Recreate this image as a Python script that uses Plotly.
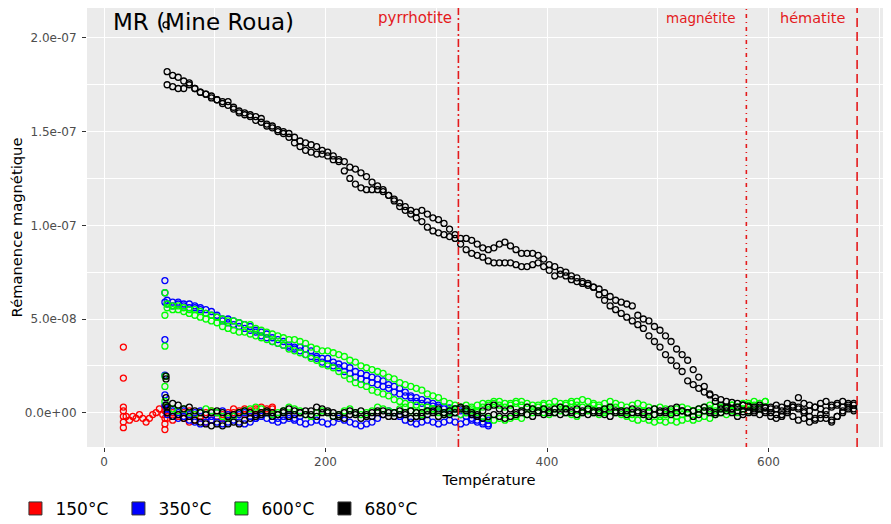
import plotly.graph_objects as go

SCALE = 1e-8  # values below are in units of 1e-8
STEP = 5      # temperature step (°C) between successive readings of a run

# ---------------- 150°C (red) ----------------
RED_COL_T = [17.5] * 7
RED_COL_V = [3.5, 1.85, 0.3, 0.1, -0.2, -0.5, -0.8]
RED_PRE_T = [20, 23, 26, 29, 32, 35, 38, 41, 44, 47, 50, 53]
RED_PRE_V = [-0.2, -0.4, -0.2, -0.3, -0.1, -0.3, -0.5, -0.3, -0.1, 0.0, 0.2, -0.1]
RED_COL2_T = [55] * 5
RED_COL2_V = [0.3, 0.1, -0.3, -0.6, -0.9]
RED_HEAT_T0 = 57
RED_HEAT = [-0.3, -0.4, -0.2, -0.3, -0.5, -0.4, -0.3, -0.5, -0.4, -0.2, -0.3, -0.1, 0.0, 0.1, 0.2,
            0.1, 0.2, 0.3, 0.2, 0.3]
RED_COOL_T0 = 57
RED_COOL = [0.1, 0.0, -0.1, 0.0, 0.1, -0.1, -0.2, 0.0, 0.1, 0.0, -0.1, 0.0, 0.2, 0.0, -0.1,
            0.0, 0.1, 0.0, 0.1, 0.2]

# ---------------- 350°C (blue) ----------------
BLUE_COL_T = [55] * 7
BLUE_COL_V = [7.05, 6.4, 5.9, 3.9, 2.0, 0.95, 0.4]
BLUE_HEAT1_T0 = 57
BLUE_HEAT1 = [6.0, 5.9, 5.9, 5.8, 5.8, 5.7, 5.6, 5.5, 5.4, 5.2, 5.0, 5.0, 4.9, 4.8, 4.7,
              4.6, 4.4, 4.3, 4.2, 4.0, 3.9, 3.8, 3.6, 3.5, 3.5, 3.4, 3.3, 3.0, 2.9, 2.9,
              2.7, 2.6, 2.5, 2.4, 2.2, 2.1, 2.0, 1.9, 1.8, 1.7, 1.5, 1.4, 1.3, 1.1, 0.9,
              0.8, 0.7, 0.6, 0.5, 0.4, 0.3, 0.25, 0.2, 0.1, 0.0, -0.1, -0.2, -0.3, -0.4]
BLUE_HEAT2_T0 = 57
BLUE_HEAT2 = [5.8, 5.7, 5.8, 5.7, 5.6, 5.6, 5.5, 5.3, 5.2, 5.1, 4.9, 4.8, 4.7, 4.6, 4.5,
              4.4, 4.3, 4.1, 4.0, 3.8, 3.7, 3.6, 3.5, 3.4, 3.3, 3.1, 3.0, 2.9, 2.7, 2.6,
              2.5, 2.4, 2.2, 2.1, 1.9, 1.8, 1.7, 1.6, 1.5, 1.4, 1.3, 1.1, 1.0, 0.9, 0.8,
              0.6, 0.5, 0.4, 0.35, 0.3, 0.2, 0.1, 0.0, -0.1, -0.2, -0.3, -0.4, -0.5, -0.6]
BLUE_COOL1_T0 = 57
BLUE_COOL1 = [-0.1, -0.2, -0.3, -0.2, -0.4, -0.5, -0.6, -0.5, -0.4, -0.5, -0.6, -0.5, -0.4, -0.5, -0.6,
              -0.5, -0.3, -0.2, -0.3, -0.4, -0.5, -0.4, -0.3, -0.4, -0.5, -0.6, -0.5, -0.4, -0.5, -0.6,
              -0.5, -0.3, -0.4, -0.5, -0.6, -0.7, -0.6, -0.5, -0.3, -0.1, 0.1, 0.0, -0.2, -0.4, -0.5,
              -0.6, -0.5, -0.4, -0.5, -0.6, -0.5, -0.4, -0.5, -0.6, -0.5, -0.4, -0.5, -0.6, -0.7]
BLUE_COOL2_T0 = 57
BLUE_COOL2 = [0.2, 0.1, 0.0, 0.1, -0.1, 0.0, 0.1, -0.1, -0.2, 0.0, 0.1, -0.1, -0.2, -0.1, 0.0,
              -0.2, -0.3, -0.1, 0.0, -0.2, -0.3, -0.2, -0.1, -0.3, -0.2]

# ---------------- 600°C (green) ----------------
GREEN_COL_T = [55] * 6
GREEN_COL_V = [6.4, 5.2, 3.55, 1.95, 1.4, 0.6]
GREEN_HEAT1_T0 = 57
GREEN_HEAT1 = [5.8, 5.7, 5.7, 5.6, 5.5, 5.5, 5.4, 5.3, 5.2, 5.1, 5.0, 4.9, 4.9, 4.8, 4.7,
               4.7, 4.5, 4.4, 4.3, 4.2, 4.1, 4.0, 3.9, 3.9, 3.8, 3.7, 3.5, 3.4, 3.3, 3.3,
               3.2, 3.1, 3.0, 2.8, 2.7, 2.5, 2.4, 2.3, 2.2, 2.1, 1.9, 1.8, 1.6, 1.5, 1.4,
               1.3, 1.2, 1.0, 0.9, 0.8, 0.6, 0.5, 0.4, 0.3, 0.2, 0.3, 0.4, 0.5, 0.4, 0.5,
               0.6, 0.5, 0.4, 0.5, 0.6, 0.5, 0.4, 0.3, 0.4, 0.5, 0.6, 0.5, 0.4, 0.5, 0.6,
               0.7, 0.6, 0.5, 0.4, 0.5, 0.6, 0.5, 0.4, 0.3, 0.4, 0.5, 0.4, 0.3, 0.2, 0.3,
               0.2, 0.1, 0.2, 0.3, 0.2, 0.1, 0.2, 0.3, 0.4, 0.3, 0.2, 0.3, 0.4, 0.3, 0.4,
               0.5, 0.4, 0.5, 0.6]
GREEN_HEAT2_T0 = 57
GREEN_HEAT2 = [5.6, 5.5, 5.5, 5.4, 5.3, 5.2, 5.1, 5.0, 4.9, 4.8, 4.6, 4.5, 4.4, 4.3, 4.3,
               4.2, 4.1, 4.0, 3.9, 3.8, 3.7, 3.6, 3.4, 3.3, 3.2, 3.1, 2.9, 2.8, 2.6, 2.5,
               2.4, 2.2, 2.0, 1.8, 1.6, 1.5, 1.4, 1.2, 1.1, 1.0, 0.9, 0.7, 0.6, 0.5, 0.4,
               0.4, 0.3, 0.3, 0.2, 0.1, 0.0, 0.1, 0.0, -0.1, 0.0, 0.1, 0.0, -0.2, -0.3, -0.4,
               -0.3, -0.4, -0.3, -0.2, -0.3, -0.1, 0.0, 0.1, 0.0, -0.1, 0.0, 0.1, 0.0, -0.1, -0.2,
               0.0, 0.1, 0.0, -0.1, 0.0, 0.1, 0.0, -0.1, -0.2, -0.3, -0.4, -0.3, -0.4, -0.5, -0.4,
               -0.5, -0.4, -0.5, -0.4, -0.3, -0.4, -0.3, -0.2, -0.3, -0.1, 0.0, -0.1, 0.1, 0.0, 0.2,
               0.1, 0.3, 0.2, 0.3]
GREEN_COOL_T0 = 57
GREEN_COOL = [0.3, 0.2, 0.1, 0.2, 0.0, -0.1, 0.0, 0.2, 0.1, 0.0, -0.2, -0.3, -0.2, 0.0, 0.1,
              0.2, 0.3, 0.2, 0.0, -0.1, 0.0, 0.1, 0.3, 0.2, 0.1, -0.1, -0.2, 0.0, 0.1, 0.0,
              -0.2, -0.1, 0.1, 0.2, 0.0, -0.1, 0.0, 0.1, 0.3, 0.2, 0.1, 0.0, 0.2, 0.3, 0.1,
              0.0, -0.1, 0.1, 0.2, 0.0, -0.1, 0.0, 0.2, 0.3, 0.4, 0.2, 0.1, 0.3, 0.5, 0.6,
              0.4, 0.3, 0.5, 0.6, 0.4, 0.3, 0.2, 0.4, 0.5, 0.3, 0.2, 0.3, 0.5, 0.6, 0.4,
              0.3, 0.2, 0.4, 0.3, 0.1, 0.2, 0.3, 0.1, 0.0, -0.1, 0.0, 0.1, 0.0, -0.1, -0.2,
              -0.1, 0.0, -0.2, -0.1, 0.0, 0.1, 0.0, 0.1, 0.2, 0.1, 0.3, 0.2, 0.4, 0.3, 0.5,
              0.4, 0.6, 0.5, 0.6]

# ---------------- 680°C (black) ----------------
BLACK_COL_T = [56] * 5
BLACK_COL_V = [20.7, 1.95, 1.8, 0.8, 0.4]
BLACK_HEAT1_T0 = 57
BLACK_HEAT1 = [18.2, 18.0, 17.9, 17.7, 17.6, 17.3, 17.1, 17.0, 16.8, 16.7, 16.6, 16.6, 16.3, 16.1, 16.0,
               15.9, 15.8, 15.7, 15.4, 15.3, 15.1, 15.0, 14.9, 14.7, 14.5, 14.4, 14.3, 14.2, 14.0, 13.9,
               13.7, 13.5, 13.4, 13.1, 13.0, 12.8, 12.6, 12.3, 12.1, 11.9, 11.6, 11.4, 11.2, 11.0, 10.8,
               10.7, 10.8, 10.6, 10.4, 10.3, 10.1, 9.8, 9.5, 9.3, 9.3, 9.2, 9.0, 8.8, 8.7, 8.8,
               9.0, 9.1, 8.9, 8.7, 8.5, 8.5, 8.5, 8.4, 8.2, 7.9, 7.8, 7.6, 7.5, 7.3, 7.2,
               7.0, 6.9, 6.7, 6.3, 6.0, 5.7, 5.5, 5.3, 5.1, 4.9, 4.7, 4.5, 4.1, 3.8, 3.5,
               3.1, 2.8, 2.5, 2.2, 1.7, 1.5, 1.3, 1.1, 0.95, 0.8, 0.7, 0.6, 0.55, 0.5, 0.4,
               0.35, 0.3, 0.3, 0.25, 0.3, 0.2, 0.1, 0.2, 0.3, 0.2, 0.0, 0.1, 0.3, 0.2, 0.1,
               0.3, 0.4, 0.3, 0.5, 0.4]
BLACK_HEAT2_T0 = 57
BLACK_HEAT2 = [17.5, 17.4, 17.3, 17.3, 17.5, 17.3, 17.1, 17.0, 16.9, 16.7, 16.5, 16.4, 16.2, 16.0, 15.9,
               15.8, 15.6, 15.5, 15.3, 15.2, 15.0, 14.9, 14.7, 14.4, 14.2, 14.0, 13.9, 13.8, 13.8, 13.7,
               13.5, 13.4, 12.9, 12.5, 12.2, 12.0, 11.9, 11.9, 11.9, 11.8, 11.6, 11.3, 11.0, 10.8, 10.6,
               10.4, 10.2, 9.9, 9.7, 9.6, 9.5, 9.4, 9.3, 9.0, 8.7, 8.5, 8.4, 8.3, 8.1, 8.0,
               8.0, 8.0, 8.0, 7.9, 7.8, 7.8, 7.9, 8.0, 7.8, 7.6, 7.3, 7.4, 7.3, 7.1, 7.0,
               6.9, 6.8, 6.7, 6.6, 6.4, 6.2, 6.0, 5.9, 5.8, 5.7, 5.2, 5.0, 4.9, 4.6, 4.4,
               4.1, 3.8, 3.4, 3.1, 2.8, 2.3, 1.9, 1.4, 1.0, 0.6, 0.4, 0.25, 0.2, 0.1, 0.05,
               0.1, 0.0, 0.2, 0.1, 0.0, -0.1, -0.2, 0.1, 0.3, 0.8, 0.1, -0.2, -0.4, -0.3, -0.1,
               -0.4, -0.2, 0.0, 0.2, 0.1]
BLACK_COOL1_T0 = 57
BLACK_COOL1 = [0.3, 0.5, 0.4, 0.2, 0.3, 0.1, 0.0, -0.1, 0.0, 0.1, 0.0, -0.2, -0.1, 0.0, 0.1,
               0.0, -0.1, 0.0, 0.1, 0.0, -0.1, 0.1, 0.2, 0.1, 0.0, -0.1, 0.1, 0.3, 0.2, 0.0,
               -0.2, -0.1, 0.0, 0.1, -0.1, -0.3, -0.2, 0.0, 0.1, -0.1, -0.2, 0.0, 0.1, -0.1, -0.3,
               -0.2, 0.0, 0.1, 0.0, -0.2, -0.1, 0.1, 0.2, 0.3, 0.2, 0.0, -0.1, 0.1, 0.3, 0.4,
               0.2, 0.1, 0.2, 0.0, 0.1, 0.3, 0.2, 0.1, -0.1, 0.0, 0.2, 0.3, 0.2, 0.0, -0.1,
               0.1, 0.2, 0.1, 0.0, 0.2, 0.3, 0.1, 0.0, 0.1, 0.2, 0.0, -0.1, 0.1, 0.2, 0.1,
               0.0, 0.2, 0.3, 0.1, 0.0, 0.1, 0.2, 0.3, 0.1, 0.0, 0.2, 0.3, 0.2, 0.3, 0.4,
               0.3, 0.2, 0.4, 0.3, 0.2, 0.4, 0.3, 0.5, 0.4, 0.3, 0.5, 0.4, 0.3, 0.5, 0.6,
               0.4, 0.5, 0.6, 0.4, 0.5]
BLACK_COOL2_T0 = 57
BLACK_COOL2 = [0.0, -0.2, -0.1, -0.3, -0.2, -0.4, -0.5, -0.6, -0.7, -0.6, -0.7, -0.6, -0.5, -0.6, -0.4,
               -0.3, -0.2, -0.1, 0.0, -0.2, -0.1, 0.0, -0.2, -0.1, 0.0, 0.1, -0.1, -0.2, 0.0, 0.1,
               0.0, -0.2, -0.3, -0.1, 0.0, 0.1, -0.1, -0.2, 0.0, 0.1, 0.0, -0.2, -0.1, 0.0, 0.1,
               0.0, -0.2, -0.1, 0.1, 0.2, 0.0, -0.1, 0.0, 0.2, 0.1, -0.1, -0.2, -0.3, -0.2, -0.1,
               -0.2, -0.3, -0.2, -0.1, 0.0, -0.1, -0.2, 0.0, 0.2, 0.1, 0.0, -0.1, 0.0, 0.1, 0.2,
               0.0, -0.1, 0.0, 0.1, -0.1, -0.2, 0.0, 0.1, -0.1, 0.0, 0.1, 0.0, -0.2, -0.1, 0.0,
               0.1, -0.1, 0.0, 0.1, 0.0, -0.2, -0.1, 0.1, 0.0, -0.1, 0.0, 0.1, 0.0, -0.2, -0.1,
               0.0, 0.1, -0.1, 0.0, -0.2, -0.3, -0.1, 0.0, -0.2, -0.4, -0.3, -0.5, -0.3, -0.1, -0.3,
               -0.5, -0.2, 0.1, 0.3, 0.2]

# ---------------- reference temperatures ----------------
MINERAL_NAMES = ["pyrrhotite", "magnétite", "hématite"]
MINERAL_T = [320, 580, 680]
MINERAL_DASH = ["8px,3px,2px,3px", "4px,4px,1px,4px", "9px,5px"]
MINERAL_FONT = [15, 13.5, 14.5]
MINERAL_SHIFT = [(-4, 1), (-8, 0), (-9, 0)]

LEGEND_NAMES = ["150°C", "350°C", "600°C", "680°C"]
COLORS = ["#FF0000", "#0000FF", "#00FF00", "#000000"]

TICK_Y = [0, 5e-8, 1e-7, 1.5e-7, 2e-7]
TICK_Y_TEXT = ["0.0e+00", "5.0e-08", "1.0e-07", "1.5e-07", "2.0e-07"]
TICK_X = [0, 200, 400, 600]

FONT = "DejaVu Sans"


def run(t0, vals):
    return [t0 + STEP * i for i in range(len(vals))], [v * SCALE for v in vals]


groups = [
    (COLORS[0], [(RED_COL_T, [v * SCALE for v in RED_COL_V]),
                 (RED_PRE_T, [v * SCALE for v in RED_PRE_V]),
                 (RED_COL2_T, [v * SCALE for v in RED_COL2_V]),
                 run(RED_HEAT_T0, RED_HEAT), run(RED_COOL_T0, RED_COOL)]),
    (COLORS[1], [(BLUE_COL_T, [v * SCALE for v in BLUE_COL_V]),
                 run(BLUE_HEAT1_T0, BLUE_HEAT1), run(BLUE_HEAT2_T0, BLUE_HEAT2),
                 run(BLUE_COOL1_T0, BLUE_COOL1), run(BLUE_COOL2_T0, BLUE_COOL2)]),
    (COLORS[2], [(GREEN_COL_T, [v * SCALE for v in GREEN_COL_V]),
                 run(GREEN_HEAT1_T0, GREEN_HEAT1), run(GREEN_HEAT2_T0, GREEN_HEAT2),
                 run(GREEN_COOL_T0, GREEN_COOL)]),
    (COLORS[3], [(BLACK_COL_T, [v * SCALE for v in BLACK_COL_V]),
                 run(BLACK_HEAT1_T0, BLACK_HEAT1), run(BLACK_HEAT2_T0, BLACK_HEAT2),
                 run(BLACK_COOL1_T0, BLACK_COOL1), run(BLACK_COOL2_T0, BLACK_COOL2)]),
]

fig = go.Figure()
for color, runs in groups:
    xs, ys = [], []
    for x, y in runs:
        xs += list(x)
        ys += list(y)
    fig.add_trace(go.Scatter(
        x=xs, y=ys, mode="markers", showlegend=False, hoverinfo="skip",
        marker=dict(symbol="circle-open", size=6, color=color, line=dict(width=1.3, color=color)),
    ))

# legend-only entries (filled squares as in the reference legend)
for name, color in zip(LEGEND_NAMES, COLORS):
    fig.add_trace(go.Scatter(
        x=[None], y=[None], mode="markers", name=name,
        marker=dict(symbol="square", size=13, color=color, line=dict(width=1, color="#333333")),
    ))

for name, t, dash, fs, (dx, dy) in zip(MINERAL_NAMES, MINERAL_T, MINERAL_DASH, MINERAL_FONT, MINERAL_SHIFT):
    fig.add_shape(type="line", xref="x", yref="paper", x0=t, x1=t, y0=0, y1=1,
                  line=dict(color="#E41A1C", width=1.6, dash=dash))
    fig.add_annotation(x=t, y=1, xref="x", yref="paper", text=name, showarrow=False,
                       xanchor="right", yanchor="top", xshift=dx, yshift=dy,
                       font=dict(family=FONT, size=fs, color="#E41A1C"))

fig.add_annotation(x=6, y=1, xref="x", yref="paper", text="MR (Mine Roua)", showarrow=False,
                   xanchor="left", yanchor="top", yshift=1,
                   font=dict(family=FONT, size=23, color="black"))

# The page body adds an 8 px offset, so the figure is sized to fit the window exactly.
fig.update_layout(
    width=883, height=516,
    margin=dict(l=79, r=0, t=0, b=77, autoexpand=False),
    paper_bgcolor="white", plot_bgcolor="#EBEBEB",
    font=dict(family=FONT, color="black"),
    legend=dict(orientation="h", x=-0.089, xanchor="left", y=-0.141, yanchor="middle",
                font=dict(family=FONT, size=17, color="black"),
                bgcolor="rgba(0,0,0,0)", itemsizing="trace",
                entrywidth=58, entrywidthmode="pixels"),
    xaxis=dict(range=[-15.35, 710.6], tickvals=TICK_X, showgrid=True, gridcolor="white",
               gridwidth=1.1, zeroline=False, ticks="outside", ticklen=4, tickcolor="#333333",
               automargin=False,
               tickfont=dict(family=FONT, size=12, color="#4D4D4D"),
               title=dict(text="Température", font=dict(family=FONT, size=14.7, color="black"), standoff=6),
               minor=dict(tickvals=[100, 300, 500, 700], showgrid=True, gridcolor="white",
                          gridwidth=0.5, ticks="")),
    yaxis=dict(range=[-1.83e-8, 2.1596e-7], tickvals=TICK_Y, ticktext=TICK_Y_TEXT, showgrid=True,
               gridcolor="white", gridwidth=1.1, zeroline=False, ticks="outside", ticklen=4,
               tickcolor="#333333", automargin=False, ticklabelstandoff=3,
               tickfont=dict(family=FONT, size=12, color="#4D4D4D"),
               title=dict(text="Rémanence magnétique", font=dict(family=FONT, size=14.7, color="black"),
                          standoff=3),
               minor=dict(tickvals=[2.5e-8, 7.5e-8, 1.25e-7, 1.75e-7], showgrid=True, gridcolor="white",
                          gridwidth=0.5, ticks="")),
)

fig.write_html("out.html")
